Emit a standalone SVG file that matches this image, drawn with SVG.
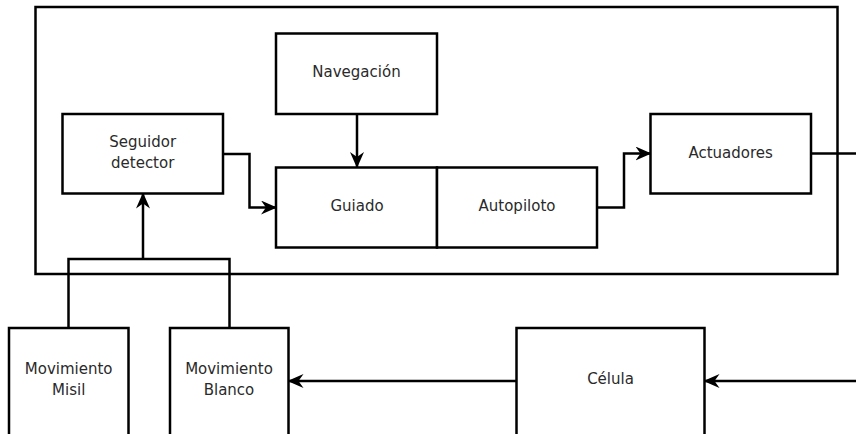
<svg xmlns="http://www.w3.org/2000/svg" width="856" height="434" viewBox="0 0 856 434">
  <style>
    .box { fill: #ffffff; stroke: #000000; stroke-width: 2.5; }
    .frame { fill: none; stroke: #000000; stroke-width: 2.5; }
    .wire { fill: none; stroke: #000000; stroke-width: 2.5; }
    .lbl { font-family: "DejaVu Sans", "Liberation Sans", sans-serif; font-size: 15px; fill: #2a2a2a; text-anchor: middle; dominant-baseline: central; }
  </style>
  <defs>
    <marker id="arrow" viewBox="0 0 16 14" refX="15" refY="7" markerWidth="16" markerHeight="14" markerUnits="userSpaceOnUse" orient="auto">
      <path d="M0,0 L16,7 L0,14 L5,7 z" fill="#000000"/>
    </marker>
  </defs>
  <rect width="856" height="434" fill="#ffffff"/>

  <!-- missile system frame -->
  <rect id="frame" class="frame" x="35.5" y="7" width="802" height="267"/>

  <g id="connectors">
    <!-- Navegación -> Guiado -->
    <path class="wire" d="M357,114 V167" marker-end="url(#arrow)"/>
    <!-- Seguidor detector -> Guiado -->
    <path class="wire" d="M223,154 H249.5 V207.5 H276" marker-end="url(#arrow)"/>
    <!-- Autopiloto -> Actuadores -->
    <path class="wire" d="M597,207.5 H624 V153.5 H650.5" marker-end="url(#arrow)"/>
    <!-- Actuadores output -->
    <path class="wire" d="M811,153.5 H856"/>
    <!-- Movimiento Misil / Blanco -> Seguidor detector -->
    <path class="wire" d="M68.5,328 V259 H229.5 V328"/>
    <path class="wire" d="M143,259 V193.5" marker-end="url(#arrow)"/>
    <!-- Célula -> Movimiento Blanco -->
    <path class="wire" d="M516.5,381 H288.5" marker-end="url(#arrow)"/>
    <!-- input -> Célula -->
    <path class="wire" d="M856,381 H704.5" marker-end="url(#arrow)"/>
  </g>

  <g id="navegacion">
    <rect class="box" x="276" y="33.5" width="161" height="80.5"/>
    <text class="lbl" x="356.5" y="72">Navegación</text>
  </g>
  <g id="seguidor">
    <rect class="box" x="62.5" y="114" width="160.5" height="79.5"/>
    <text class="lbl" x="142.7" y="142">Seguidor</text>
    <text class="lbl" x="142.7" y="163">detector</text>
  </g>
  <g id="guiado">
    <rect class="box" x="276" y="167.5" width="161" height="80"/>
    <text class="lbl" x="357" y="206">Guiado</text>
  </g>
  <g id="autopiloto">
    <rect class="box" x="437" y="167.5" width="160" height="80"/>
    <text class="lbl" x="517" y="206">Autopiloto</text>
  </g>
  <g id="actuadores">
    <rect class="box" x="650.5" y="114" width="160.5" height="79.5"/>
    <text class="lbl" x="730.6" y="153">Actuadores</text>
  </g>
  <g id="mov-misil">
    <rect class="box" x="9" y="328" width="119.5" height="120"/>
    <text class="lbl" x="68.7" y="369">Movimiento</text>
    <text class="lbl" x="68.7" y="390">Misil</text>
  </g>
  <g id="mov-blanco">
    <rect class="box" x="170" y="328" width="118.5" height="120"/>
    <text class="lbl" x="229" y="369">Movimiento</text>
    <text class="lbl" x="229" y="390">Blanco</text>
  </g>
  <g id="celula">
    <rect class="box" x="516.5" y="328" width="188" height="120"/>
    <text class="lbl" x="610.5" y="379">Célula</text>
  </g>
</svg>
